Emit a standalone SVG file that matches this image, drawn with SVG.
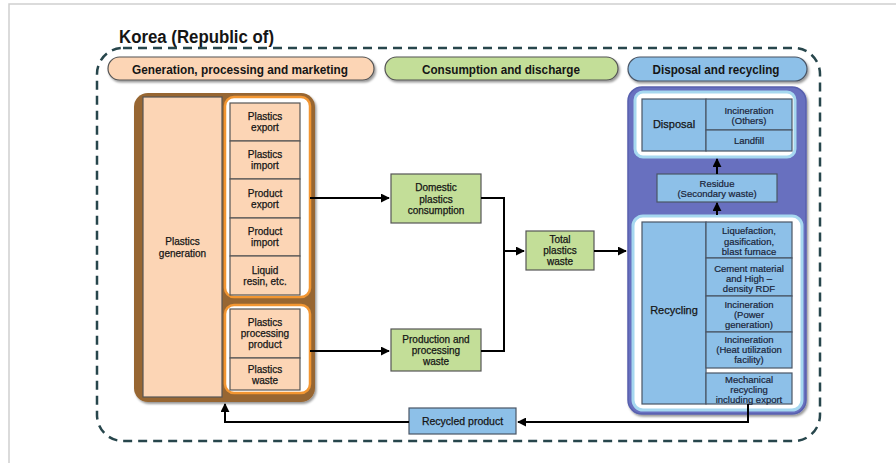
<svg xmlns="http://www.w3.org/2000/svg" width="896" height="463" viewBox="0 0 896 463">
<defs>
<filter id="sh" x="-10%" y="-20%" width="130%" height="160%">
<feDropShadow dx="1.5" dy="2" stdDeviation="1.3" flood-color="#000" flood-opacity="0.4"/>
</filter>
<marker id="ah" viewBox="0 0 10 10" refX="9" refY="5" markerWidth="4.5" markerHeight="4.5" orient="auto" markerUnits="strokeWidth">
<path d="M0,0 L10,5 L0,10 z" fill="#000"/>
</marker>
<style>
text{font-family:"Liberation Sans",Arial,sans-serif;fill:#151515;text-anchor:middle}
.t{font-size:10px;stroke:#151515;stroke-width:0.25}
.s{font-size:9.5px;fill:#1a2438;stroke:#1a2438;stroke-width:0.2}
.h{font-size:12.5px;font-weight:bold}
.pe{fill:#fcd5b5;stroke:#555;stroke-width:1.2}
.gr{fill:#c3de98;stroke:#555;stroke-width:1.2}
.bl{fill:#8dc0e8;stroke:#4a5565;stroke-width:1.2}
.ln{fill:none;stroke:#000;stroke-width:2}
.og{fill:#fff;stroke:#f29632;stroke-width:2.5}
.wg{fill:#fff;stroke:#a6d8f0;stroke-width:3}
</style>
</defs>

<!-- frame -->
<path d="M9,463 V4 H896" fill="none" stroke="#cfcfcf" stroke-width="1.5"/>

<text x="119" y="43" style="font-size:18px;font-weight:bold;text-anchor:start" textLength="155" lengthAdjust="spacingAndGlyphs">Korea (Republic of)</text>

<rect x="97" y="48" width="723" height="393" rx="26" fill="none" stroke="#27464c" stroke-width="2.5" stroke-dasharray="9,6"/>

<!-- headers -->
<g id="hdr-gen">
<rect x="108" y="57" width="266" height="23" rx="11.5" class="pe" filter="url(#sh)"/>
<text x="240" y="73.5" class="h" textLength="216" lengthAdjust="spacingAndGlyphs">Generation, processing and marketing</text>
</g>
<g id="hdr-cons">
<rect x="385" y="57" width="233" height="23" rx="11.5" class="gr" filter="url(#sh)"/>
<text x="501" y="73.5" class="h" textLength="158" lengthAdjust="spacingAndGlyphs">Consumption and discharge</text>
</g>
<g id="hdr-disp">
<rect x="628" y="57" width="179" height="24" rx="12" class="bl" filter="url(#sh)"/>
<text x="716" y="74" class="h" textLength="127" lengthAdjust="spacingAndGlyphs">Disposal and recycling</text>
</g>

<!-- left container -->
<g id="generation">
<rect x="134" y="93" width="181" height="309" rx="14" fill="#976631" filter="url(#sh)"/>
<rect x="143" y="97" width="79" height="300" class="pe"/>
<text x="182.5" y="245" class="t">Plastics</text>
<text x="182.5" y="257" class="t">generation</text>
</g>

<g id="trade-group">
<rect x="225" y="97" width="85" height="200" rx="9" class="og"/>
<rect x="230" y="103" width="70" height="38" class="pe"/>
<text x="265" y="120" class="t">Plastics</text><text x="265" y="131" class="t">export</text>
<rect x="230" y="141" width="70" height="38" class="pe"/>
<text x="265" y="158" class="t">Plastics</text><text x="265" y="169" class="t">import</text>
<rect x="230" y="179" width="70" height="39" class="pe"/>
<text x="265" y="196.5" class="t">Product</text><text x="265" y="207.5" class="t">export</text>
<rect x="230" y="218" width="70" height="38" class="pe"/>
<text x="265" y="235" class="t">Product</text><text x="265" y="246" class="t">import</text>
<rect x="230" y="256" width="70" height="39" class="pe"/>
<text x="265" y="273.5" class="t">Liquid</text><text x="265" y="284.5" class="t">resin, etc.</text>
</g>

<g id="processing-group">
<rect x="225" y="305" width="85" height="88" rx="9" class="og"/>
<rect x="230" y="309" width="70" height="49" class="pe"/>
<text x="265" y="326" class="t">Plastics</text><text x="265" y="337" class="t">processing</text><text x="265" y="348" class="t">product</text>
<rect x="230" y="358" width="70" height="32" class="pe"/>
<text x="265" y="373" class="t">Plastics</text><text x="265" y="384" class="t">waste</text>
</g>

<!-- middle -->
<g id="domestic">
<rect x="391" y="174" width="90" height="49" class="gr"/>
<text x="436" y="191" class="t">Domestic</text><text x="436" y="203" class="t">plastics</text><text x="436" y="214" class="t">consumption</text>
</g>
<g id="production">
<rect x="391" y="329" width="90" height="42" class="gr"/>
<text x="436" y="342.5" class="t">Production and</text><text x="436" y="354" class="t">processing</text><text x="436" y="365" class="t">waste</text>
</g>
<g id="total">
<rect x="526" y="231" width="68" height="39" class="gr"/>
<text x="560" y="243" class="t">Total</text><text x="560" y="254" class="t">plastics</text><text x="560" y="265" class="t">waste</text>
</g>

<!-- right container -->
<g id="disposal-recycling">
<rect x="628" y="87" width="178" height="327" rx="14" fill="#6870bf" stroke="#5860ae" stroke-width="1.5" filter="url(#sh)"/>
</g>
<g id="disposal">
<rect x="635" y="92" width="160" height="65" rx="8" class="wg"/>
<rect x="642" y="99" width="64" height="52" class="bl"/>
<text x="674" y="128" class="t" style="font-size:11px">Disposal</text>
<rect x="706" y="99" width="86" height="31" class="bl"/>
<text x="749" y="113.5" class="s">Incineration</text><text x="749" y="123.5" class="s">(Others)</text>
<rect x="706" y="130" width="86" height="21" class="bl"/>
<text x="749" y="144" class="s">Landfill</text>
</g>
<g id="residue">
<rect x="657" y="174" width="120" height="28" class="bl"/>
<text x="717" y="187" class="s">Residue</text><text x="717" y="197" class="s">(Secondary waste)</text>
</g>
<g id="recycling">
<rect x="633" y="216" width="169" height="194" rx="10" class="wg"/>
<rect x="642" y="222" width="64" height="182" class="bl"/>
<text x="674" y="314" class="t" style="font-size:11px">Recycling</text>
<rect x="706" y="222" width="86" height="36" class="bl"/>
<text x="749" y="234" class="s">Liquefaction,</text><text x="749" y="244.5" class="s">gasification,</text><text x="749" y="254.5" class="s">blast furnace</text>
<rect x="706" y="258" width="86" height="38" class="bl"/>
<text x="749" y="272" class="s">Cement material</text><text x="749" y="282" class="s">and High –</text><text x="749" y="292" class="s">density RDF</text>
<rect x="706" y="296" width="86" height="36" class="bl"/>
<text x="749" y="308" class="s">Incineration</text><text x="749" y="318" class="s">(Power</text><text x="749" y="328" class="s">generation)</text>
<rect x="706" y="332" width="86" height="36" class="bl"/>
<text x="749" y="343" class="s">Incineration</text><text x="749" y="353" class="s">(Heat utilization</text><text x="749" y="363" class="s">facility)</text>
<rect x="706" y="373" width="86" height="31" class="bl"/>
<text x="749" y="383" class="s">Mechanical</text><text x="749" y="393" class="s">recycling</text><text x="749" y="403" class="s">including export</text>
</g>

<g id="recycled-product">
<rect x="409" y="408" width="107" height="26" class="bl"/>
<text x="462.5" y="425" class="t" style="font-size:10.5px">Recycled product</text>
</g>

<!-- connectors -->
<g id="connectors">
<path class="ln" d="M310,198 H389" marker-end="url(#ah)"/>
<path class="ln" d="M310,351 H389" marker-end="url(#ah)"/>
<path class="ln" d="M481,198 H504 V351 H481"/>
<path class="ln" d="M504,251 H524" marker-end="url(#ah)"/>
<path class="ln" d="M594,251 H626" marker-end="url(#ah)"/>
<path class="ln" d="M717,215 V203" marker-end="url(#ah)"/>
<path class="ln" d="M717,174 V159" marker-end="url(#ah)"/>
<path class="ln" d="M748,404 V422 H518" marker-end="url(#ah)"/>
<path class="ln" d="M409,422 H225 V404" marker-end="url(#ah)"/>
</g>
</svg>
